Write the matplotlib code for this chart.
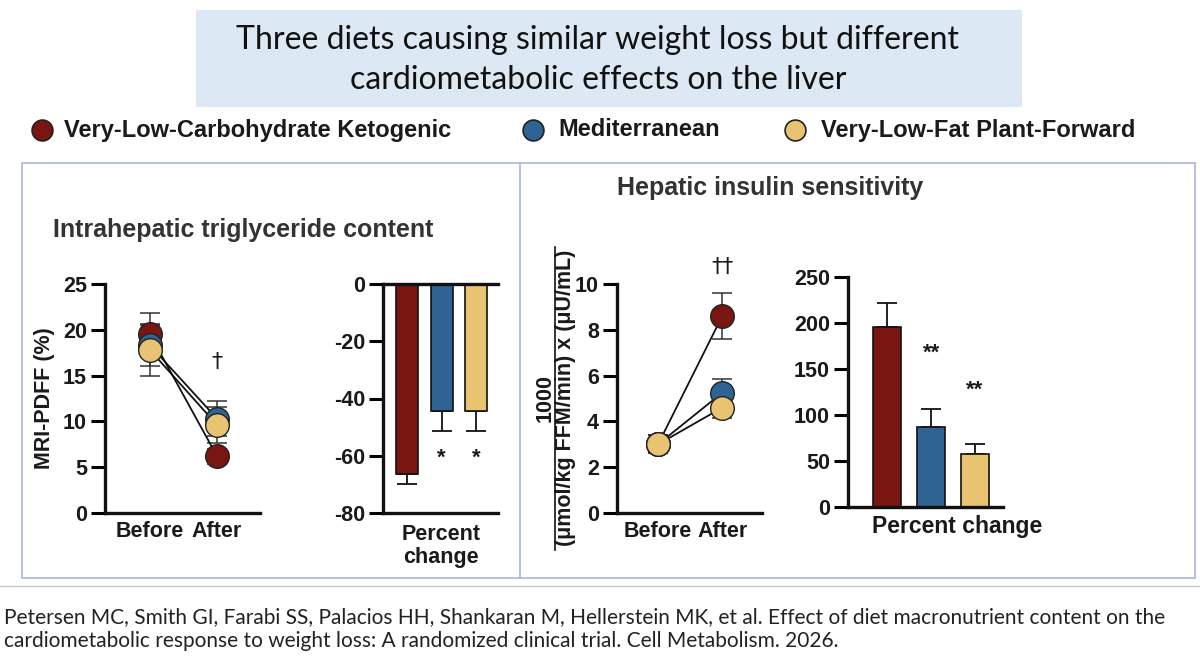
import matplotlib
matplotlib.use("Agg")
import matplotlib.pyplot as plt
from matplotlib.patches import Rectangle
from matplotlib.lines import Line2D

plt.rcParams["axes.unicode_minus"] = False

W, H = 1200, 667
diets = ["Very-Low-Carbohydrate Ketogenic", "Mediterranean", "Very-Low-Fat Plant-Forward"]
colors = ["#7a1611", "#2f6394", "#e8c372"]
timepoints = ["Before", "After"]

ihtg_before = [19.5, 18.3, 17.8]
ihtg_before_err = [2.3, 2.2, 2.8]
ihtg_after = [6.2, 10.3, 9.6]
ihtg_after_err = [0.8, 1.9, 2.0]
ihtg_pct = [-66.5, -44.5, -44.5]
ihtg_pct_err = [3.3, 7.0, 7.0]

his_before = [3.0, 3.0, 3.0]
his_before_err = [0.4, 0.4, 0.4]
his_after = [8.6, 5.25, 4.6]
his_after_err = [1.0, 0.6, 0.45]
his_pct = [196, 87, 58]
his_pct_err = [26, 20, 10]

BF = "Liberation Sans"
TXT = "#1a1a1a"
TS = 15.5

fig = plt.figure(figsize=(12, 6.67), dpi=100)

def fx(x): return x / W
def fy(y): return 1 - y / H
def add_ax(x0, y0, x1, y1):
    return fig.add_axes([fx(x0), fy(y1), fx(x1 - x0), (y1 - y0) / H])

# title box
fig.patches.append(Rectangle((fx(196), fy(107)), fx(826), (97) / H, transform=fig.transFigure,
                             facecolor="#dce8f4", edgecolor="none", zorder=0))
fig.text(fx(598), fy(40), "Three diets causing similar weight loss but different",
         ha="center", va="center", fontsize=23, family="Lato", color="#111")
fig.text(fx(598), fy(80), "cardiometabolic effects on the liver",
         ha="center", va="center", fontsize=23, family="Lato", color="#111")

# legend
for (mx, tx), name, c in zip([(42, 64), (533, 558), (795, 821)], diets, colors):
    fig.lines.append(Line2D([fx(mx)], [fy(130)], marker="o", markersize=15, markerfacecolor=c,
                            markeredgecolor="#222", markeredgewidth=1.2, transform=fig.transFigure))
    fig.text(fx(tx), fy(130), name, ha="left", va="center", fontsize=17, family=BF,
             weight="bold", color=TXT)

# panel borders
fig.patches.append(Rectangle((fx(22), fy(578)), fx(1173), 415 / H, transform=fig.transFigure,
                             facecolor="none", edgecolor="#a9b8d6", lw=1.2))
fig.lines.append(Line2D([fx(520), fx(520)], [fy(163), fy(578)], color="#a9b8d6", lw=1.2,
                        transform=fig.transFigure))
fig.lines.append(Line2D([fx(0), fx(1200)], [fy(586), fy(586)], color="#c8c8c8", lw=1,
                        transform=fig.transFigure))

fig.text(fx(53), fy(230), "Intrahepatic triglyceride content", ha="left", va="center",
         fontsize=18, family=BF, weight="bold", color="#333")
fig.text(fx(770), fy(188), "Hepatic insulin sensitivity", ha="center", va="center",
         fontsize=18, family=BF, weight="bold", color="#333")

def style(ax, ylim, yticks):
    for s in ["top", "right"]:
        ax.spines[s].set_visible(False)
    for s in ["left", "bottom"]:
        ax.spines[s].set_linewidth(2.4)
        ax.spines[s].set_color("#111")
    ax.set_ylim(*ylim)
    ax.set_yticks(yticks)
    ax.tick_params(axis="y", length=10, width=2.2, labelsize=TS, pad=3)
    ax.tick_params(axis="x", length=0, labelsize=TS, pad=6)
    for lab in ax.get_yticklabels() + ax.get_xticklabels():
        lab.set_fontfamily(BF); lab.set_fontweight("bold"); lab.set_color(TXT)
    ax.patch.set_alpha(0)

def line_panel(ax, before, berr, after, aerr):
    for i in range(3):
        ax.plot([0, 1], [before[i], after[i]], color="#111", lw=1.3, zorder=2)
    for i in range(3):
        ax.errorbar([0, 1], [before[i], after[i]], yerr=[berr[i], aerr[i]], fmt="none",
                    ecolor="#333", elinewidth=1.1, capsize=7, capthick=1.1, zorder=1)
        ax.plot([0, 1], [before[i], after[i]], "o", ms=17, mfc=colors[i], mec="#222",
                mew=1.0, zorder=3 + i * 0.1, ls="none")
    ax.set_xticks([0, 1])
    ax.set_xticklabels(timepoints)

def bar_panel(ax, vals, errs):
    x = list(range(3))
    ax.bar(x, vals, width=0.64, color=colors, edgecolor="#111", lw=1.2, zorder=2)
    lo = [e if v < 0 else 0 for v, e in zip(vals, errs)]
    hi = [e if v >= 0 else 0 for v, e in zip(vals, errs)]
    ax.errorbar(x, vals, yerr=[lo, hi], fmt="none", ecolor="#111", elinewidth=1.3,
                capsize=7, capthick=1.3, zorder=1)
    ax.set_xticks([])

# panel 1
ax1 = add_ax(105, 284, 260, 513)
line_panel(ax1, ihtg_before, ihtg_before_err, ihtg_after, ihtg_after_err)
ax1.set_xlim(-0.67, 1.64)
style(ax1, (0, 25), [0, 5, 10, 15, 20, 25])
ax1.set_ylabel("MRI-PDFF (%)", fontsize=TS, family=BF, weight="bold", color=TXT, labelpad=6)
ax1.text(1, 16.5, "†", ha="center", va="center", fontsize=16, color=TXT)

# panel 2
ax2 = add_ax(383, 284, 498, 513)
bar_panel(ax2, ihtg_pct, ihtg_pct_err)
ax2.set_xlim(-0.7, 2.64)
style(ax2, (-80, 0), [-80, -60, -40, -20, 0])
ax2.spines["bottom"].set_position(("data", 0))
ax2.plot([-0.7, 2.64], [-80, -80], color="#111", lw=2.4, clip_on=False)
for i in (1, 2):
    ax2.text(i, -61, "*", ha="center", va="center", fontsize=16, family=BF, weight="bold", color=TXT)
fig.text(fx(441), fy(546), "Percent\nchange", ha="center", va="center", fontsize=TS, family=BF,
         weight="bold", color=TXT, linespacing=1.15)

# panel 3
ax3 = add_ax(617, 284, 762, 513)
line_panel(ax3, his_before, his_before_err, his_after, his_after_err)
ax3.set_xlim(-0.64, 1.62)
style(ax3, (0, 10), [0, 2, 4, 6, 8, 10])
ax3.text(1, 10.75, "††", ha="center", va="center", fontsize=16, color=TXT)
fig.text(fx(545), fy(398), "1000", rotation=90, ha="center", va="center", fontsize=TS,
         family=BF, weight="bold", color=TXT)
fig.text(fx(566), fy(398), "(μmol/kg FFM/min) x (μU/mL)", rotation=90, ha="center", va="center",
         fontsize=TS, family=BF, weight="bold", color=TXT)
fig.lines.append(Line2D([fx(555), fx(555)], [fy(247), fy(550)], color="#111", lw=1.2,
                        transform=fig.transFigure))

# panel 4
ax4 = add_ax(848, 277, 1003, 507)
bar_panel(ax4, his_pct, his_pct_err)
ax4.set_xlim(-0.9, 2.64)
style(ax4, (0, 250), [0, 50, 100, 150, 200, 250])
ax4.text(1, 167, "**", ha="center", va="center", fontsize=16, family=BF, weight="bold", color=TXT)
ax4.text(2, 127, "**", ha="center", va="center", fontsize=16, family=BF, weight="bold", color=TXT)
fig.text(fx(957), fy(526), "Percent change", ha="center", va="center", fontsize=16.5,
         family=BF, weight="bold", color=TXT)

fig.text(fx(4), fy(617), "Petersen MC, Smith GI, Farabi SS, Palacios HH, Shankaran M, Hellerstein MK, et al. Effect of diet macronutrient content on the",
         ha="left", va="center", fontsize=15, family="Lato", color="#222")
fig.text(fx(4), fy(641), "cardiometabolic response to weight loss: A randomized clinical trial. Cell Metabolism. 2026.",
         ha="left", va="center", fontsize=15, family="Lato", color="#222")

fig.savefig("out.png", dpi=100)
